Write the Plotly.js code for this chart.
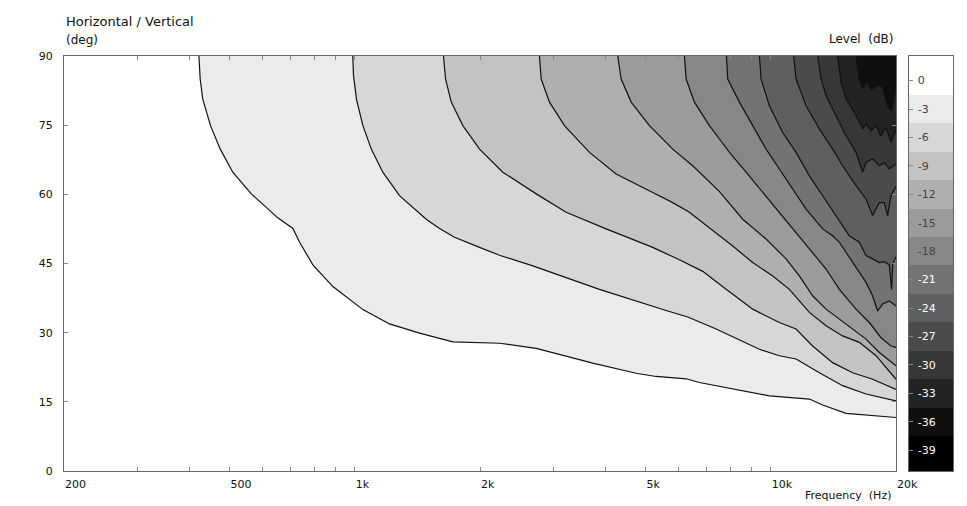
<!DOCTYPE html>
<html>
<head>
<meta charset="utf-8">
<script src="https://cdn.plot.ly/plotly-3.0.1.min.js"></script>
<style>html,body{margin:0;padding:0;background:#fff;}#chart{width:967px;height:506px;}</style>
</head>
<body>
<div id="chart"></div>
<script>
// Contour levels (dB) and band labels
const levels = [0, -3, -6, -9, -12, -15, -18, -21, -24, -27, -30, -33, -36, -39];

// Contour lines: frequency (Hz) and angle (deg)
const f_m3  = [422,425,431,450,475,509,564,653,710,737,793,886,1046,1212,1431,1721,2228,2730,3733,4746,5302,6259,6737,7955,9924,12382,13328,15166,16942,20000];
const a_m3  = [90,85.0,80.7,74.9,69.8,64.8,60.1,54.9,52.6,49.6,44.7,40.0,35.0,31.9,29.9,28.0,27.7,26.6,23.4,21.2,20.5,20.0,19.2,18.0,16.3,15.6,14.3,12.5,12.2,11.6];
const f_m6  = [989,993,1010,1046,1097,1168,1281,1485,1599,1737,1995,2228,2679,3874,5603,6315,7391,9390,10486,11502,13086,14884,16942,20000];
const a_m6  = [90,85.8,80.5,74.9,69.7,64.8,59.7,54.6,52.6,50.7,48.5,46.8,44.5,39.4,34.8,33.4,30.8,26.4,25.0,24.3,21.3,18.5,16.7,15.2];
const f_m9  = [1634,1653,1706,1819,1995,2269,2730,3222,4020,5203,6031,6861,7810,9048,10486,11502,12606,14082,15730,17572,20000];
const a_m9  = [90,85.0,80.0,74.9,69.8,64.8,60.1,56.1,52.5,48.5,45.8,43.3,39.4,35.1,32.2,30.8,27.1,23.5,21.3,19.9,17.7];
const f_m12 = [2780,2806,2938,3192,3666,4249,5203,5812,6374,7527,8101,9048,10106,11084,12382,13580,14884,16326,17906,20000];
const a_m12 = [90,85.0,80.0,74.9,69.1,64.4,60.4,58.2,56.1,51.0,48.8,45.2,42.3,39.4,34.4,31.5,29.3,27.9,25.0,19.9];
const f_m15 = [4287,4368,4617,5109,5812,6492,7527,8562,9744,10882,11712,12606,13580,14616,15730,16942,18236,20000];
const a_m15 = [90,85.0,80.0,74.9,69.8,66.2,60.6,54.6,50.3,46.0,42.3,38.0,35.1,32.9,30.8,28.6,25.7,22.8];
const f_m18 = [6201,6259,6553,7120,7527,7955,8722,9562,10486,11502,12382,13580,14616,16028,17252,18408,19454,20000];
const a_m18 = [90,85.0,80.0,74.9,72.0,69.1,64.8,60.4,56.1,51.7,48.1,43.8,39.4,35.1,32.2,28.9,27.1,26.8];
const f_m21 = [7824,7880,8406,9048,9744,10486,11288,12158,13328,14082,14616,15730,16942,17572,18064,18572,19274,20000];
const a_m21 = [90,85.0,80.0,74.9,69.8,65.5,61.2,56.8,52.5,51.0,49.6,45.2,40.9,38.0,34.7,36.2,36.9,35.8];
const f_m24 = [9390,9478,9924,10678,11502,12382,13328,14350,15444,16326,16942,17572,18236,18748,19274,19520,19650,20000];
const a_m24 = [90,85.0,79.2,73.4,69.1,64.0,59.7,55.4,51.0,49.6,46.7,46.0,45.2,45.4,44.7,39.3,44.9,46.5];
const f_m27 = [11350,11502,12158,13086,14082,14884,16028,16942,17572,17906,18236,18748,19092,19454,20000];
const a_m27 = [90,85.0,79.2,74.2,69.8,66.2,61.9,59.0,55.4,56.8,58.2,58.2,55.4,59.7,61.7];
const f_m30 = [12964,13210,13580,14350,15166,16028,16626,16942,17572,18236,18748,19274,20000];
const a_m30 = [90,85.0,81.4,77.1,72.7,69.1,64.8,66.9,67.7,66.2,66.9,65.5,66.6];
const f_m33 = [14480,14754,15166,16028,16626,16942,17416,17906,18408,18924,19454,20000];
const a_m33 = [90,84.3,80.7,77.1,74.2,75.3,73.8,74.9,72.7,74.5,71.3,74.0];
const f_m36 = [16028,16326,16626,17092,17416,18064,18572,19092,19562,19812,20000];
const a_m36 = [90,84.9,83.1,84.5,82.7,83.6,83.3,79.1,78.0,81.6,83.8];

// X tick values and labels
const xTickVals = [200,300,400,500,600,700,800,900,1000,2000,3000,4000,5000,6000,7000,8000,9000,10000,20000];
const xTickText = ['200','','','500','','','','','1k','2k','','','5k','','','','','10k','20k'];
const yTickVals = [0,15,30,45,60,75,90];

// Styles
const bandColors = ['#ffffff','#ebebeb','#d7d7d7','#c3c3c3','#afafaf','#9b9b9b','#878787','#737373','#5f5f5f','#4b4b4b','#373737','#232323','#0f0f0f','#000000'];
const lineSets = [[f_m3,a_m3],[f_m6,a_m6],[f_m9,a_m9],[f_m12,a_m12],[f_m15,a_m15],[f_m18,a_m18],[f_m21,a_m21],[f_m24,a_m24],[f_m27,a_m27],[f_m30,a_m30],[f_m33,a_m33],[f_m36,a_m36]];
const FMAX = 20000, AMAX = 90;

const traces = [];
// filled bands (lighter first, darker overlaid)
lineSets.forEach((s, i) => {
  traces.push({
    type: 'scatter', mode: 'lines', x: s[0].concat([FMAX]), y: s[1].concat([AMAX]),
    fill: 'toself', fillcolor: bandColors[i + 1], line: {width: 0}, hoverinfo: 'skip', showlegend: false,
    xaxis: 'x', yaxis: 'y'
  });
});
// contour lines
lineSets.forEach((s) => {
  traces.push({
    type: 'scatter', mode: 'lines', x: s[0], y: s[1],
    line: {color: '#111111', width: 1.2}, hoverinfo: 'skip', showlegend: false,
    xaxis: 'x', yaxis: 'y'
  });
});

// colour bar as a heatmap
const cbBottom = -41.2, cbTop = 2.6;
const asc = levels.slice().sort((a, b) => a - b);
const edges = [cbBottom];
for (let i = 0; i < asc.length - 1; i++) edges.push((asc[i] + asc[i + 1]) / 2);
edges.push(cbTop);
const lo = asc[0], hi = asc[asc.length - 1];
const cscale = asc.map(v => [(v - lo) / (hi - lo), bandColors[levels.indexOf(v)]]);
traces.push({
  type: 'heatmap', x: [0], y: edges, z: asc.map(v => [v]),
  zmin: lo, zmax: hi, colorscale: cscale, showscale: false, hoverinfo: 'skip',
  xaxis: 'x2', yaxis: 'y2'
});
const cbText = levels.map((v, i) => i >= 7 ? '<span style="color:#ffffff">' + v + '</span>' : String(v));

const W = 967, H = 506, L = 64, R = 14, T = 56, B = 35;
const pw = W - L - R;
const plotRight = 896, cbLeft = 909;
const font = 'DejaVu Sans, Verdana, sans-serif';

const layout = {
  width: W, height: H,
  margin: {l: L, r: R, t: T, b: B, pad: 0},
  paper_bgcolor: '#ffffff', plot_bgcolor: '#ffffff',
  font: {family: font, size: 11, color: '#111111'},
  showlegend: false,
  xaxis: {
    type: 'log', domain: [0, (plotRight - L) / pw],
    range: [Math.log10(200), Math.log10(20000)],
    tickmode: 'array', tickvals: xTickVals, ticktext: xTickText,
    ticks: 'inside', ticklen: 4, tickcolor: '#888888', tickwidth: 1,
    ticklabelposition: 'outside right', ticklabelstandoff: 3,
    showline: true, linecolor: '#666666', linewidth: 1, mirror: 'ticks',
    showgrid: false, zeroline: false, anchor: 'y', fixedrange: true
  },
  yaxis: {
    domain: [0, 1], range: [0, 90],
    tickmode: 'array', tickvals: yTickVals,
    ticks: 'inside', ticklen: 4, tickcolor: '#888888', tickwidth: 1,
    ticklabelstandoff: 8,
    showline: true, linecolor: '#666666', linewidth: 1, mirror: 'ticks',
    showgrid: false, zeroline: false, anchor: 'x', fixedrange: true
  },
  xaxis2: {
    domain: [(cbLeft - L) / pw, 1], range: [-0.5, 0.5], anchor: 'y2',
    showticklabels: false, ticks: '', showgrid: false, zeroline: false,
    showline: true, linecolor: '#666666', linewidth: 1, mirror: true, fixedrange: true
  },
  yaxis2: {
    domain: [0, 1], range: [cbBottom, cbTop], anchor: 'x2',
    tickmode: 'array', tickvals: levels, ticktext: cbText,
    ticks: 'inside', ticklen: 4, tickcolor: '#888888',
    ticklabelposition: 'inside', ticklabelstandoff: 4,
    showgrid: false, zeroline: false,
    showline: true, linecolor: '#666666', linewidth: 1, mirror: true, fixedrange: true
  },
  annotations: [
    {text: 'Horizontal / Vertical', xref: 'paper', yref: 'paper', x: 0, y: 1 + 35 / 415, xanchor: 'left', yanchor: 'middle', showarrow: false, font: {size: 13, color: '#111111'}},
    {text: '(deg)', xref: 'paper', yref: 'paper', x: 0, y: 1 + 16 / 415, xanchor: 'left', yanchor: 'middle', showarrow: false, font: {size: 12, color: '#111111'}},
    {text: 'Level\u00a0\u00a0(dB)', xref: 'paper', yref: 'paper', x: (plotRight - L) / pw, y: 1 + 17 / 415, xanchor: 'right', yanchor: 'middle', showarrow: false, font: {size: 12, color: '#111111'}},
    {text: 'Frequency\u00a0\u00a0(Hz)', xref: 'paper', yref: 'paper', x: (893 - L) / pw, y: -24 / 415, xanchor: 'right', yanchor: 'middle', showarrow: false, font: {size: 11, color: '#111111'}}
  ]
};

Plotly.newPlot('chart', traces, layout, {staticPlot: true, displayModeBar: false});
</script>
</body>
</html>
